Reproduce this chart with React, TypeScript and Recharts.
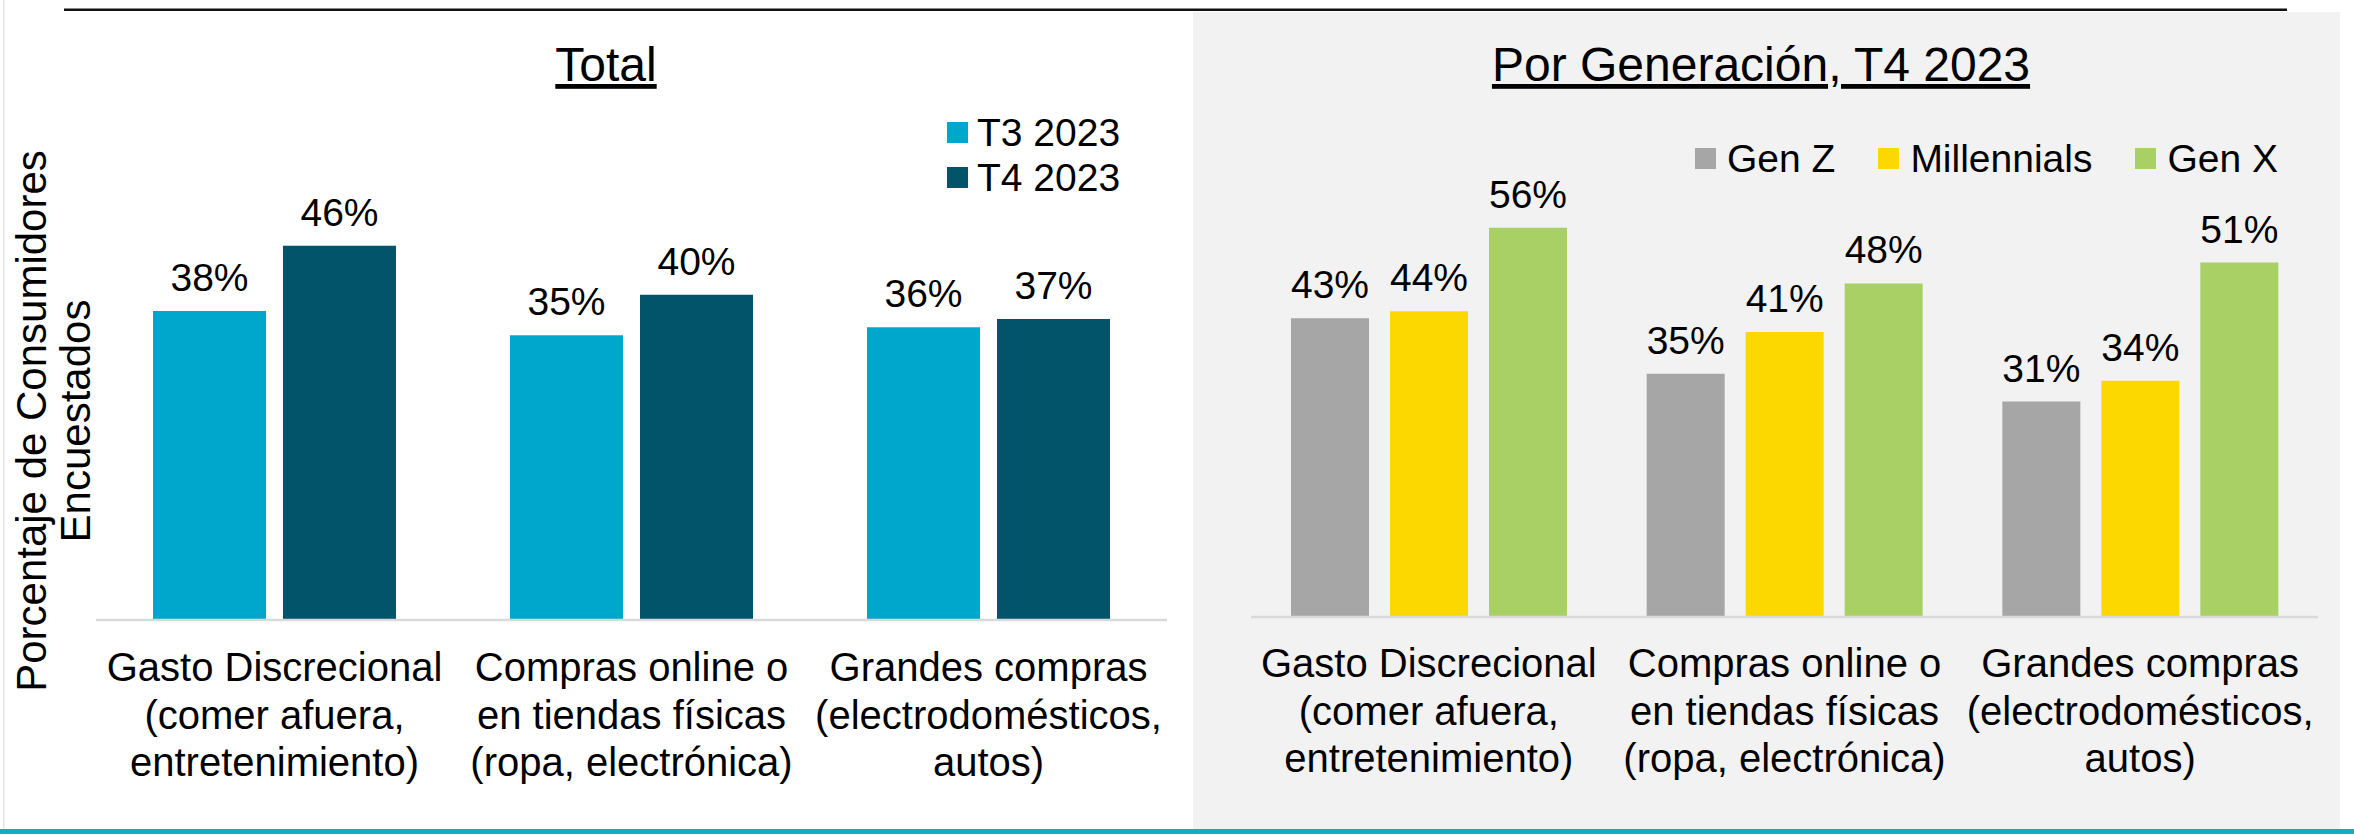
import React from 'react';
import { BarChart, Bar, XAxis, YAxis, LabelList, Legend } from 'recharts';

const categoryLines: string[][] = [
  ['Gasto Discrecional', '(comer afuera,', 'entretenimiento)'],
  ['Compras online o', 'en tiendas físicas', '(ropa, electrónica)'],
  ['Grandes compras', '(electrodomésticos,', 'autos)'],
];
const categoryKeys = ['c0', 'c1', 'c2'];

const totalSeriesNames = ['T3 2023', 'T4 2023'];
const totalSeriesColors = ['#00A7CC', '#02546A'];
const t3Values = [38, 35, 36];
const t4Values = [46, 40, 37];

const genSeriesNames = ['Gen Z', 'Millennials', 'Gen X'];
const genSeriesColors = ['#A6A6A6', '#FDD800', '#A9D064'];
const genZValues = [43, 35, 31];
const millennialsValues = [44, 41, 34];
const genXValues = [56, 48, 51];

const yAxisLabelLines = ['Porcentaje de Consumidores', 'Encuestados'];
const titleTotal = 'Total';
const titleGen = 'Por Generación, T4 2023';

const totalData = categoryKeys.map((k, i) => ({ cat: k, s0: t3Values[i], s1: t4Values[i] }));
const genData = categoryKeys.map((k, i) => ({
  cat: k,
  s0: genZValues[i],
  s1: millennialsValues[i],
  s2: genXValues[i],
}));

const FONT = '"Liberation Sans", Arial, Helvetica, sans-serif';

const CatTick = (props: any) => {
  const { x, y, payload, firstDy } = props;
  const idx = categoryKeys.indexOf(payload.value);
  const lines = categoryLines[idx] || [];
  return (
    <g>
      {lines.map((ln, i) => (
        <text
          key={i}
          x={x}
          y={y + firstDy + i * 47.5}
          textAnchor="middle"
          fontSize={40}
          fontFamily={FONT}
          fill="#000"
        >
          {ln}
        </text>
      ))}
    </g>
  );
};

const pct = (v: any) => `${v}%`;

const TotalLegend = () => (
  <div style={{ fontFamily: FONT, fontSize: 39, color: '#000' }}>
    {totalSeriesNames.map((n, i) => (
      <div key={n} style={{ display: 'flex', alignItems: 'center', height: 45 }}>
        <span style={{ width: 21, height: 21, background: totalSeriesColors[i], marginRight: 9, display: 'inline-block' }} />
        <span style={{ lineHeight: '45px' }}>{n}</span>
      </div>
    ))}
  </div>
);

const GenLegend = () => (
  <div style={{ fontFamily: FONT, fontSize: 39, color: '#000', display: 'flex', alignItems: 'center', height: 45 }}>
    {genSeriesNames.map((n, i) => (
      <div key={n} style={{ display: 'flex', alignItems: 'center', marginRight: 43 }}>
        <span style={{ width: 21, height: 21, background: genSeriesColors[i], marginRight: 11, display: 'inline-block' }} />
        <span style={{ lineHeight: '45px' }}>{n}</span>
      </div>
    ))}
  </div>
);

export default function App() {
  return (
    <div style={{ position: 'absolute', left: 0, top: 0, width: 2354, height: 836, background: '#fff', overflow: 'hidden' }}>
      <svg width={2354} height={836} style={{ position: 'absolute', left: 0, top: 0 }}>
        <rect x={0} y={0} width={2354} height={836} fill="#fff" />
        <rect x={3} y={0} width={1.5} height={830} fill="#e4e4e4" />
        <rect x={1193} y={12} width={1147} height={818} fill="#F2F2F2" />
        <rect x={64} y={8.5} width={2223} height={2.5} fill="#111" />
        <rect x={0} y={829} width={2354} height={5} fill="#15A8CF" />
        <text x={606} y={81} textAnchor="middle" fontSize={48} fontFamily={FONT} fill="#000" style={{ textDecoration: 'underline' }}>
          {titleTotal}
        </text>
        <text x={1761} y={81} textAnchor="middle" fontSize={48} fontFamily={FONT} fill="#000" style={{ textDecoration: 'underline' }}>
          {titleGen}
        </text>
        <g transform="translate(46,421) rotate(-90)">
          <text x={0} y={0} textAnchor="middle" fontSize={42} fontFamily={FONT} fill="#000">{yAxisLabelLines[0]}</text>
          <text x={0} y={44} textAnchor="middle" fontSize={42} fontFamily={FONT} fill="#000">{yAxisLabelLines[1]}</text>
        </g>
      </svg>

      <div style={{ position: 'absolute', left: 0, top: 0 }}>
        <BarChart
          width={1193}
          height={836}
          data={totalData}
          margin={{ top: 132, right: 26, bottom: 16, left: 96 }}
          barSize={113}
          barGap={17}
        >
          <XAxis
            dataKey="cat"
            height={200}
            axisLine={{ stroke: '#D9D9D9', strokeWidth: 2.5 }}
            tickLine={false}
            tickSize={0}
            tickMargin={0}
            interval={0}
            tick={<CatTick firstDy={61} />}
          />
          <YAxis hide domain={[0, 60]} />
          <Legend
            layout="horizontal"
            verticalAlign="middle"
            align="center"
            content={() => <TotalLegend />}
            wrapperStyle={{ position: 'absolute', left: 947, top: 110, width: 220, height: 90 }}
          />
          {totalSeriesNames.map((n, i) => (
            <Bar key={n} dataKey={`s${i}`} name={n} fill={totalSeriesColors[i]} isAnimationActive={false}>
              <LabelList dataKey={`s${i}`} position="top" offset={20} formatter={pct} fontSize={39} fontFamily={FONT} fill="#000" />
            </Bar>
          ))}
        </BarChart>
      </div>

      <div style={{ position: 'absolute', left: 1193, top: 0 }}>
        <BarChart
          width={1161}
          height={836}
          data={genData}
          margin={{ top: 130.5, right: 36, bottom: 19, left: 58 }}
          barSize={78}
          barGap={21}
        >
          <XAxis
            dataKey="cat"
            height={200}
            axisLine={{ stroke: '#D9D9D9', strokeWidth: 2.5 }}
            tickLine={false}
            tickSize={0}
            tickMargin={0}
            interval={0}
            tick={<CatTick firstDy={60} />}
          />
          <YAxis hide domain={[0, 70]} />
          <Legend
            layout="horizontal"
            verticalAlign="middle"
            align="center"
            content={() => <GenLegend />}
            wrapperStyle={{ position: 'absolute', left: 502, top: 136, width: 640, height: 45 }}
          />
          {genSeriesNames.map((n, i) => (
            <Bar key={n} dataKey={`s${i}`} name={n} fill={genSeriesColors[i]} isAnimationActive={false}>
              <LabelList dataKey={`s${i}`} position="top" offset={20} formatter={pct} fontSize={39} fontFamily={FONT} fill="#000" />
            </Bar>
          ))}
        </BarChart>
      </div>
    </div>
  );
}
